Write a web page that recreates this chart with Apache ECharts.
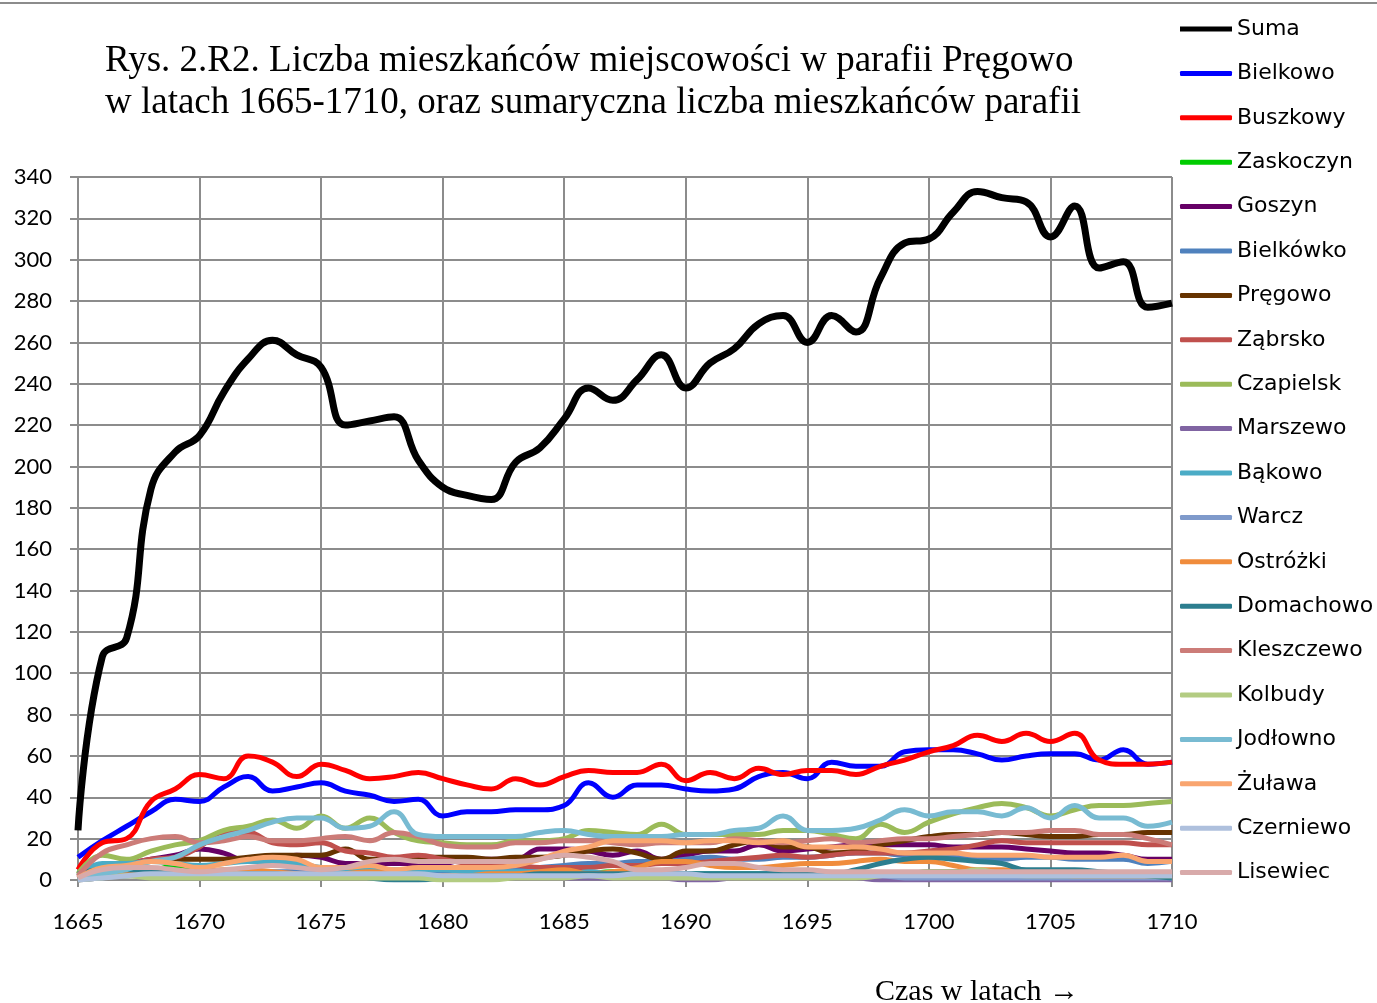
<html>
<head>
<meta charset="utf-8">
<script src="https://cdn.jsdelivr.net/npm/echarts@6/dist/echarts.min.js"></script>
<style>
    body { margin: 0; padding: 0; background: #fff; }
    #chart { width: 1377px; height: 1003px; }
</style>
</head>
<body>
<div id="chart"></div>
<script type="text/javascript">
    var years = [1665, 1666, 1667, 1668, 1669, 1670, 1671, 1672, 1673, 1674,
        1675, 1676, 1677, 1678, 1679, 1680, 1681, 1682, 1683, 1684,
        1685, 1686, 1687, 1688, 1689, 1690, 1691, 1692, 1693, 1694,
        1695, 1696, 1697, 1698, 1699, 1700, 1701, 1702, 1703, 1704,
        1705, 1706, 1707, 1708, 1709, 1710];

    var suma = [24, 108, 117, 189, 207, 215, 236, 252, 261, 254, 248, 220, 222, 224, 203, 190, 186, 184, 202, 209,
        223, 238, 232, 242, 254, 238, 250, 257, 269, 273, 260, 273, 265, 291, 308, 310, 323, 333, 330, 328,
        311, 326, 296, 299, 277, 279];
    var bielkowo = [11, 19, 26, 33, 39, 38, 45, 50, 43, 45, 47, 43, 41, 38, 39, 31, 33, 33, 34, 34,
        36, 47, 40, 46, 46, 44, 43, 44, 50, 52, 49, 57, 55, 55, 62, 63, 63, 61, 58, 60,
        61, 61, 58, 63, 56, 57];
    var buszkowy = [5, 18, 20, 38, 44, 51, 49, 60, 57, 50, 56, 53, 49, 50, 52, 49, 46, 44, 49, 46,
        50, 53, 52, 52, 56, 48, 52, 49, 54, 51, 53, 53, 51, 55, 58, 62, 65, 70, 67, 71,
        67, 71, 58, 56, 56, 57];
    var zaskoczyn = [1, 2, 2, 4, 7, 4, 3, 2, 2, 2, 2, 3, 4, 3, 2, 2, 2, 2, 2, 2,
        2, 3, 4, 3, 3, 3, 3, 3, 3, 3, 3, 3, 3, 3, 3, 4, 4, 4, 3, 3,
        3, 3, 3, 3, 3, 3];
    var goszyn = [1, 6, 8, 10, 12, 15, 13, 9, 10, 12, 11, 8, 8, 8, 8, 8, 10, 10, 10, 15,
        15, 14, 12, 14, 10, 12, 14, 14, 17, 14, 15, 16, 17, 17, 17, 17, 16, 16, 16, 15,
        14, 13, 13, 12, 10, 10];
    var bielkowko = [0, 2, 3, 3, 3, 4, 4, 4, 4, 4, 4, 4, 4, 4, 4, 4, 5, 5, 5, 6,
        7, 8, 8, 9, 9, 10, 11, 10, 10, 11, 11, 12, 13, 13, 12, 12, 11, 11, 10, 11,
        11, 10, 10, 10, 8, 9];
    var pregowo = [1, 6, 8, 9, 10, 10, 10, 11, 12, 12, 12, 15, 10, 10, 11, 11, 11, 10, 11, 11,
        12, 14, 15, 13, 10, 14, 14, 17, 19, 16, 16, 13, 14, 17, 19, 21, 22, 22, 23, 22,
        21, 21, 22, 22, 23, 23];
    var zabrsko = [1, 7, 8, 10, 11, 16, 23, 23, 18, 17, 18, 14, 13, 11, 12, 10, 8, 7, 7, 6,
        6, 6, 7, 7, 8, 8, 9, 10, 11, 12, 11, 12, 13, 13, 13, 14, 15, 17, 19, 18,
        18, 18, 18, 18, 17, 17];
    var czapielsk = [3, 12, 10, 14, 17, 19, 24, 26, 29, 25, 31, 25, 30, 23, 19, 18, 17, 17, 19, 19,
        20, 24, 23, 22, 27, 22, 22, 22, 22, 24, 24, 22, 20, 27, 23, 28, 32, 35, 37, 35,
        31, 34, 36, 36, 37, 38];
    var marszewo = [0, 1, 2, 2, 2, 3, 3, 3, 2, 2, 2, 2, 2, 2, 1, 1, 1, 1, 1, 1,
        1, 1, 1, 1, 1, 0, 0, 1, 1, 1, 1, 1, 1, 0, 0, 0, 0, 0, 0, 0,
        0, 0, 0, 0, 0, 0];
    var bakowo = [2, 8, 8, 9, 8, 7, 8, 9, 9, 8, 6, 5, 5, 5, 5, 5, 4, 4, 4, 4,
        2, 4, 3, 3, 3, 3, 3, 3, 3, 4, 3, 3, 3, 3, 3, 3, 3, 3, 3, 3,
        3, 3, 2, 2, 2, 2];
    var warcz = [0, 1, 2, 2, 2, 2, 2, 2, 2, 2, 2, 2, 2, 2, 2, 2, 2, 2, 2, 2,
        2, 2, 2, 2, 2, 2, 2, 2, 2, 2, 2, 2, 2, 2, 1, 1, 1, 1, 1, 1,
        1, 1, 1, 1, 1, 1];
    var ostrozki = [0, 2, 3, 2, 3, 4, 5, 5, 4, 3, 2, 3, 4, 3, 2, 2, 2, 3, 3, 4,
        5, 3, 4, 6, 9, 9, 7, 6, 6, 7, 8, 8, 9, 10, 9, 9, 7, 5, 5, 4,
        3, 2, 2, 2, 2, 2];
    var domachowo = [3, 5, 5, 4, 3, 2, 2, 3, 3, 2, 2, 2, 1, 0, 0, 1, 2, 2, 2, 3,
        3, 3, 3, 3, 3, 3, 3, 3, 3, 3, 3, 3, 5, 8, 10, 11, 10, 9, 8, 5,
        5, 5, 4, 3, 2, 1];
    var kleszczewo = [2, 13, 17, 20, 21, 18, 19, 21, 19, 19, 20, 21, 19, 23, 21, 17, 16, 16, 18, 18,
        19, 19, 18, 17, 18, 18, 18, 20, 19, 18, 19, 20, 18, 19, 20, 20, 21, 22, 23, 23,
        24, 24, 22, 22, 20, 17];
    var kolbudy = [0, 1, 2, 1, 1, 1, 1, 1, 1, 1, 1, 1, 1, 1, 1, 0, 0, 0, 1, 1,
        1, 2, 1, 1, 1, 1, 1, 1, 1, 1, 1, 1, 1, 2, 3, 3, 3, 5, 3, 2,
        2, 2, 2, 2, 2, 2];
    var jodlowno = [0, 3, 5, 9, 11, 17, 21, 24, 28, 30, 30, 25, 26, 33, 22, 21, 21, 21, 21, 23,
        24, 22, 21, 21, 21, 22, 22, 24, 25, 31, 24, 24, 25, 29, 34, 31, 33, 33, 31, 35,
        30, 36, 30, 30, 26, 28];
    var zulawa = [1, 6, 7, 9, 8, 6, 8, 10, 11, 10, 6, 6, 7, 5, 6, 6, 6, 6, 7, 10,
        14, 16, 19, 19, 19, 18, 19, 19, 18, 19, 16, 16, 16, 15, 13, 13, 13, 12, 12, 12,
        11, 11, 11, 12, 9, 9];
    var czerniewo = [0, 1, 2, 3, 3, 3, 3, 3, 3, 3, 3, 3, 3, 3, 3, 2, 2, 2, 2, 2,
        2, 2, 2, 3, 3, 3, 2, 2, 2, 2, 2, 2, 2, 2, 2, 2, 2, 2, 2, 2,
        2, 2, 2, 2, 2, 2];
    var lisewiec = [1, 5, 6, 6, 5, 4, 5, 6, 7, 6, 5, 6, 9, 10, 9, 9, 9, 9, 9, 10,
        12, 11, 9, 5, 5, 6, 8, 8, 6, 5, 5, 4, 4, 4, 4, 4, 4, 4, 4, 4,
        4, 4, 4, 4, 4, 4];

    var names = ['Suma', 'Bielkowo', 'Buszkowy', 'Zaskoczyn', 'Goszyn', 'Bielkówko', 'Pręgowo', 'Ząbrsko',
        'Czapielsk', 'Marszewo', 'Bąkowo', 'Warcz', 'Ostróżki', 'Domachowo', 'Kleszczewo', 'Kolbudy',
        'Jodłowno', 'Żuława', 'Czerniewo', 'Lisewiec'];
    var values = [suma, bielkowo, buszkowy, zaskoczyn, goszyn, bielkowko, pregowo, zabrsko,
        czapielsk, marszewo, bakowo, warcz, ostrozki, domachowo, kleszczewo, kolbudy,
        jodlowno, zulawa, czerniewo, lisewiec];
    var colors = ['#000000', '#0000ff', '#ff0000', '#00cc00', '#660066', '#4f81bd', '#663300', '#c0504d',
        '#9bbb59', '#8064a2', '#4bacc6', '#7f9acb', '#f08c3c', '#2c7e8f', '#cc7c78', '#b3cc82',
        '#78bbd2', '#f9a56f', '#aec0dd', '#d8aaaa'];

    var seriesList = [];
    var legendItems = [];
    for (var c = 0; c < names.length; c++) {
        var pts = [];
        for (var i = 0; i < years.length; i++) {
            pts.push([years[i], values[c][i]]);
        }
        seriesList.push({
            name: names[c],
            type: 'line',
            data: pts,
            smooth: 0.45,
            symbol: 'none',
            color: colors[c],
            lineStyle: { width: c == 0 ? 7 : 5, color: colors[c] },
            emphasis: { disabled: true },
            z: c == 0 ? 3 : 2
        });
        // suma gets a fatter legend stroke, like in the original
        legendItems.push({
            name: names[c],
            icon: c == 0 ? 'rect' : 'roundRect',
            itemStyle: { color: colors[c] }
        });
    }

    var chart = echarts.init(document.getElementById('chart'));
    var gridColor = '#8c8c8c';
    var option = {
        animation: false,
        backgroundColor: '#ffffff',
        title: {
            text: 'Rys. 2.R2. Liczba mieszkańców miejscowości w parafii Pręgowo\nw latach 1665-1710, oraz sumaryczna liczba mieszkańców parafii',
            left: 100,
            top: 35,
            textStyle: {
                fontFamily: 'Liberation Serif',
                fontSize: 37,
                fontWeight: 'normal',
                color: '#000',
                lineHeight: 42
            }
        },
        legend: {
            orient: 'vertical',
            left: 1175,
            top: 12,
            itemWidth: 52,
            itemHeight: 5,
            itemGap: 20.4,
            selectedMode: false,
            data: legendItems,
            textStyle: {
                fontFamily: 'DejaVu Sans',
                fontSize: 22,
                lineHeight: 24,
                color: '#000'
            }
        },
        grid: {
            left: 78,
            right: 205,
            top: 177,
            bottom: 123,
            containLabel: false
        },
        xAxis: {
            type: 'value',
            min: 1665,
            max: 1710,
            interval: 5,
            axisLine: { show: true, lineStyle: { color: gridColor, width: 2 } },
            axisTick: { show: true, length: 7, lineStyle: { color: gridColor, width: 2 } },
            axisLabel: {
                margin: 31,
                fontFamily: 'Lato',
                fontSize: 22,
                color: '#000',
                formatter: function (v) { return String(v); }
            },
            splitLine: { show: true, lineStyle: { color: gridColor, width: 2 } }
        },
        yAxis: {
            type: 'value',
            min: 0,
            max: 340,
            interval: 20,
            axisLine: { show: true, lineStyle: { color: gridColor, width: 2 } },
            axisTick: { show: true, length: 8, lineStyle: { color: gridColor, width: 2 } },
            axisLabel: {
                margin: 26,
                fontFamily: 'Lato',
                fontSize: 22,
                color: '#000'
            },
            splitLine: { show: true, lineStyle: { color: gridColor, width: 2 } }
        },
        graphic: [
            {
                type: 'line',
                shape: { x1: 0, y1: 3, x2: 1377, y2: 3 },
                style: { stroke: '#8c8c8c', lineWidth: 2 }
            },
            {
                type: 'text',
                left: 875,
                top: 977,
                style: {
                    text: 'Czas w latach →',
                    font: '30px "Liberation Serif"',
                    fill: '#000'
                }
            }
        ],
        series: seriesList
    };
    chart.setOption(option);
</script>
</body>
</html>
